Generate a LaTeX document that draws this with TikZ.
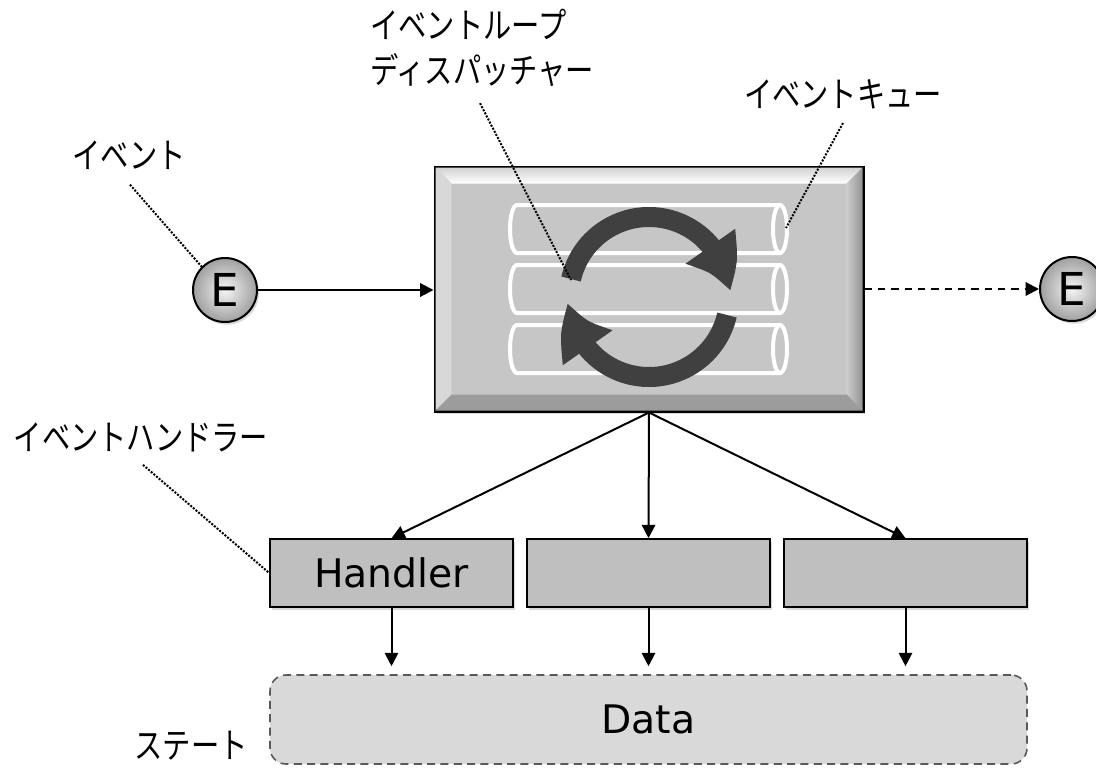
\documentclass[tikz,border=0pt]{standalone}
\usepackage{fontspec}
\setmainfont{DejaVu Sans}
\newfontfamily\jpfont{Noto Sans CJK JP}[FakeStretch=0.8]
\usetikzlibrary{arrows.meta,bending,shadows}
\definecolor{face}{HTML}{C6C6C6}
\definecolor{bvleft}{HTML}{D8D8D8}
\definecolor{bvbot}{HTML}{9C9C9C}
\definecolor{handler}{HTML}{BFBFBF}
\definecolor{datafill}{HTML}{D9D9D9}
\definecolor{dataline}{HTML}{595959}
\definecolor{cycgray}{HTML}{404040}

\begin{document}
\begin{tikzpicture}[x=0.75pt,y=-0.75pt,
    jp/.style={font=\jpfont\fontsize{26.5}{34}\selectfont,inner sep=0pt,align=left},
    leader/.style={line width=1.5pt,dash pattern=on 1.5pt off 1.1pt},
    arr/.style={line width=1.5pt,-{Triangle[length=10pt,width=10pt]}},
    shd/.style={drop shadow={opacity=0.3,shadow xshift=1.5pt,shadow yshift=-2pt}},
    ebal/.style={circle,draw,line width=1.5pt,minimum size=48pt,inner sep=0pt,inner color=gray!8,outer color=gray!75,font=\fontsize{34}{34}\selectfont,shd},
    hdl/.style={draw,line width=1.2pt,fill=handler,minimum width=182.25pt,minimum height=51pt,inner sep=0pt,font=\fontsize{29.5}{34}\selectfont,shd},
    tube/.style={draw=white,line width=3pt},
    cyc/.style={line width=15pt,color=cycgray,-{Triangle[length=38pt,width=42pt,bend]}}
]
\useasboundingbox (0,0) rectangle (1096,768);
\clip (0,0) rectangle (1096,768);

\node[draw,line width=2.25pt,fill=face,minimum width=321pt,minimum height=183pt,shd] (disp) at (649,289) {};
\shade[top color=gray!35,bottom color=white] ([shift={(2,2)}]disp.north west) -- ([shift={(-2,2)}]disp.north east) -- ([shift={(-18,18)}]disp.north east) -- ([shift={(18,18)}]disp.north west) -- cycle;
\fill[bvleft] ([shift={(2,2)}]disp.north west) -- ([shift={(2,-2)}]disp.south west) -- ([shift={(18,-18)}]disp.south west) -- ([shift={(18,18)}]disp.north west) -- cycle;
\shade[left color=gray!40,right color=gray!85] ([shift={(-18,18)}]disp.north east) -- ([shift={(-2,2)}]disp.north east) -- ([shift={(-2,-2)}]disp.south east) -- ([shift={(-18,-18)}]disp.south east) -- cycle;
\fill[bvbot] ([shift={(2,-2)}]disp.south west) -- ([shift={(-2,-2)}]disp.south east) -- ([shift={(-18,-18)}]disp.south east) -- ([shift={(18,-18)}]disp.south west) -- cycle;

\draw[tube] (780,205) -- (517,205) arc[start angle=270,end angle=90,x radius=7,y radius=24] -- (780,253);
\draw[tube] (780,229) ellipse [x radius=7,y radius=24];
\draw[tube] (780,265) -- (517,265) arc[start angle=270,end angle=90,x radius=7,y radius=24] -- (780,313);
\draw[tube] (780,289) ellipse [x radius=7,y radius=24];
\draw[tube] (780,325) -- (517,325) arc[start angle=270,end angle=90,x radius=7,y radius=24] -- (780,373);
\draw[tube] (780,349) ellipse [x radius=7,y radius=24];

\draw[cyc] (649,297) ++(167:60pt) arc[start angle=167,end angle=4,radius=60pt];
\draw[cyc] (649,297) ++(-13:60pt) arc[start angle=-13,end angle=-176,radius=60pt];
\coordinate (lp) at (571,280);
\coordinate (qend) at (786,228);

\node[jp] (lev) at (129,155) {イベント};
\node[jp,anchor=west] (ldisp) at (370,48) {イベントループ\\ディスパッチャー};
\node[jp] (lq) at (843,94) {イベントキュー};
\node[jp] (lh) at (141,437) {イベントハンドラー};
\node[jp] (ls) at (191,746) {ステート};

\node[ebal] (e1) at (225,290) {E};
\node[ebal] (e2) at (1072,289) {E};

\node[hdl] (h1) at (391.5,573) {Handler};
\node[hdl] (h2) at (648.5,573) {};
\node[hdl] (h3) at (905.5,573) {};
\node[draw=dataline,dash pattern=on 6pt off 4pt,line width=1.2pt,fill=datafill,rounded corners=12pt,minimum width=567.75pt,minimum height=66.75pt,font=\fontsize{29.5}{34}\selectfont] (data) at (648.5,719.5) {Data};

\draw[leader] ([shift={(1,15)}]lev.south) -- (e1.north west);
\draw[leader] ([shift={(110,16)}]ldisp.south west) -- (lp);
\draw[leader] ([shift={(0,14)}]lq.south) -- (qend);
\draw[leader] ([shift={(2,13)}]lh.south) -- (h1.west);

\draw[arr] (e1) -- (e1 -| disp.west);
\draw[arr,dash pattern=on 5.5pt off 4.5pt] (disp.east) -- (e2);
\draw[arr] (disp.south) -- (h1.north);
\draw[arr] (disp.south) -- (h2.north);
\draw[arr] (disp.south) -- (h3.north);
\draw[arr,shorten >=6pt] (h1) -- (h1 |- data.north);
\draw[arr,shorten >=6pt] (h2) -- (h2 |- data.north);
\draw[arr,shorten >=6pt] (h3) -- (h3 |- data.north);
\end{tikzpicture}
\end{document}
